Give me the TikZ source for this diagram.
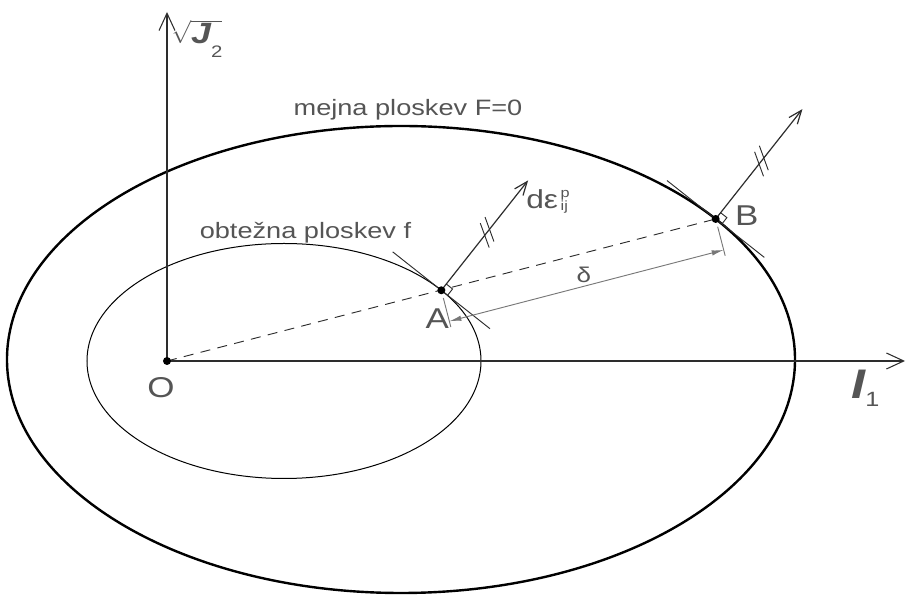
\documentclass[tikz,border=0pt]{standalone}
\usepackage{fontspec}
\usetikzlibrary{arrows.meta, calc}
\newfontfamily\labelfont[FakeStretch=1.22]{Liberation Sans}
\definecolor{txtgray}{RGB}{85,85,85}
\definecolor{linegray}{RGB}{45,45,45}
\definecolor{dimgray}{RGB}{120,120,120}

\begin{document}
\begin{tikzpicture}[x=0.75pt, y=0.75pt,
  axis/.style={draw=linegray, line width=0.8pt, -{Straight Barb[length=13pt, width=12pt]}},
  loadsurf/.style={draw=black, line width=0.75pt},
  limitsurf/.style={draw=black, line width=1.8pt},
  normalvec/.style={draw=linegray, line width=0.9pt, -{Straight Barb[length=10pt, width=8pt]}},
  helpline/.style={draw=linegray, line width=0.7pt},
  dimline/.style={draw=dimgray, line width=0.7pt},
  pointdot/.style={circle, fill=black, inner sep=0pt, minimum size=6pt},
  lbl/.style={text=txtgray, inner sep=0pt, font=\labelfont\fontsize{16.7}{20}\selectfont},
  pointlbl/.style={lbl, font=\labelfont\fontsize{21.5}{26}\selectfont},
]
  \useasboundingbox (-167,-234) rectangle (740,361);

  \coordinate (O) at (0,0);
  \coordinate (A) at ($(117,0)+(37:197 and 117.5)$);
  \coordinate (B) at ($(234,1.5)+(37:394 and 233.5)$);
  \coordinate (yEnd) at (0,349);
  \coordinate (xEnd) at (738,0);

  \draw[loadsurf] (117,0) ellipse [x radius=197, y radius=117.5];
  \draw[limitsurf] (234,1.5) ellipse [x radius=394, y radius=233.5];

  \draw[axis] (O) -- (yEnd);
  \draw[axis] (O) -- (xEnd);
  \draw[helpline, dash pattern=on 7.5pt off 5.5pt] (O) -- (B);

  \foreach \p in {A,B} {
    \draw[helpline] ($(\p)+(141.7:62)$) -- ($(\p)+(-38.3:62)$);
    \coordinate (n\p) at ($(\p)+(51.7:140)$);
    \draw[normalvec] (\p) -- (n\p);
    \draw[helpline] ($(\p)+(51.7:8)$) -- ++(-38.3:8) -- ++(-128.3:8);
    \foreach \f in {0.50,0.555}
      \draw[helpline] ($(\p)!\f!(n\p)$) ++(110:13) -- ++(-70:26);
    \draw[dimline] ($(\p)+(-75.5:8)$) -- ($(\p)+(-75.5:38)$);
    \coordinate (d\p) at ($(\p)+(-75.5:32)$);
  }

  \draw[dimline, {Latex[length=9pt, width=4pt]}-{Latex[length=9pt, width=4pt]}] (dA) -- (dB)
    node[lbl, pos=0.49, above=2pt, font=\labelfont\fontsize{16}{19}\selectfont] (lblDelta) {δ};

  \foreach \p in {O,A,B}
    \node[pointdot] (dot\p) at (\p) {};

  \node[lbl, anchor=base] (lblF) at (241,245) {mejna ploskev F=0};
  \node[lbl, anchor=base] (lblf) at (138.5,122.7) {obtežna ploskev f};
  \node[pointlbl] (lblO) at (-6,-26.7) {O};
  \node[pointlbl] (lblA) at (270.3,42) {A};
  \node[pointlbl] (lblB) at (579.7,145) {B};
  \node[lbl, anchor=base west, font=\labelfont\fontsize{19.5}{23}\selectfont] (lblEps) at (359,152.7)
    {dε\hspace{2pt}\rlap{\raisebox{8pt}{\fontsize{10}{12}\selectfont p}}\raisebox{-2pt}{\fontsize{10}{12}\selectfont ij}};
  \node[lbl, anchor=base west] (lblJ) at (4.7,317.7)
    {$\sqrt{\hbox{\fontsize{22}{26}\selectfont\bfseries\itshape J}\smash{\hbox{\raisebox{-11pt}{\fontsize{12.5}{15}\selectfont 2}}}}$};
  \node[lbl, anchor=base west] (lblI) at (684,-38)
    {{\fontsize{31}{36}\selectfont\bfseries\itshape I}\raisebox{-6pt}{\fontsize{15.5}{18}\selectfont 1}};
\end{tikzpicture}
\end{document}
